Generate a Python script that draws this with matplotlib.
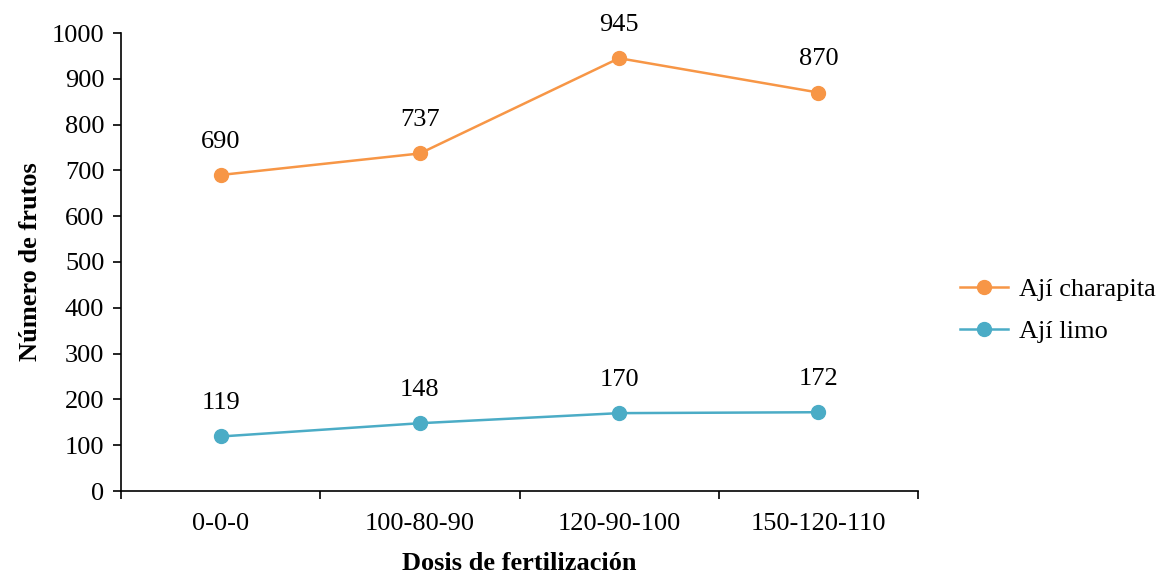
import matplotlib
matplotlib.use("Agg")
import matplotlib.pyplot as plt
import numpy as np

categories = ["0-0-0", "100-80-90", "120-90-100", "150-120-110"]
charapita = [690, 737, 945, 870]
limo = [119, 148, 170, 172]
series_names = ["Ají charapita", "Ají limo"]

plt.rcParams['font.family'] = ['Liberation Serif', 'DejaVu Serif']
FS = 19

fig = plt.figure(figsize=(11.65, 5.74), dpi=100)
ax = fig.add_axes([121/1165, 83/574, (918-121)/1165, (491-33)/574])

x = np.arange(len(categories))
c1 = "#F79646"
c2 = "#4BACC6"
ax.plot(x, charapita, color=c1, lw=1.8, marker='o', ms=10, label=series_names[0])
ax.plot(x, limo, color=c2, lw=1.8, marker='o', ms=10, label=series_names[1])

for xi, v in zip(x, charapita):
    ax.annotate(str(v), (xi, v), xytext=(0, 24), textcoords='offset points',
                ha='center', va='center', fontsize=FS)
for xi, v in zip(x, limo):
    ax.annotate(str(v), (xi, v), xytext=(0, 24), textcoords='offset points',
                ha='center', va='center', fontsize=FS)

ax.set_xlim(-0.5, len(categories) - 0.5)
ax.set_ylim(0, 1000)
ax.set_yticks(np.arange(0, 1001, 100))
ax.set_xticks(x)
ax.set_xticklabels(categories, fontsize=FS)
ax.tick_params(axis='x', length=0, pad=16)
ax.set_xticks(np.arange(-0.5, len(categories), 1), minor=True)
ax.tick_params(axis='x', which='minor', length=6, width=1.2, direction='out')
ax.tick_params(axis='y', labelsize=FS, length=6, width=1.2, direction='out', pad=6)

for s in ['top', 'right']:
    ax.spines[s].set_visible(False)
for s in ['left', 'bottom']:
    ax.spines[s].set_linewidth(1.2)

ax.set_xlabel("Dosis de fertilización", fontsize=FS, fontweight='bold', labelpad=12)
ax.set_ylabel("Número de frutos", fontsize=FS, fontweight='bold', labelpad=7)

ax.legend(loc='center left', bbox_to_anchor=(1.023, 0.395), frameon=False, fontsize=FS,
          handlelength=1.8, labelspacing=0.7, handletextpad=0.45)

fig.savefig("out.png", dpi=100)
